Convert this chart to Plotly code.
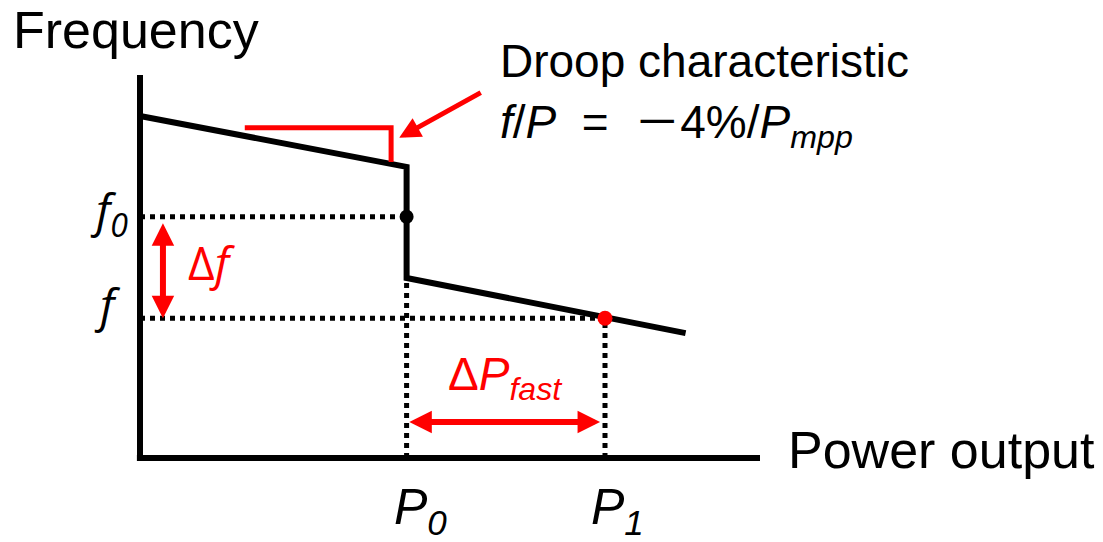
import plotly.graph_objects as go

# ---- Droop characteristic schematic (arbitrary units) ----
axis_max_p = 10.0          # length of the power axis
axis_max_f = 10.0          # height of the frequency axis

# droop curve: upper branch, step down at P0, lower branch
droop_p = [0.0, 4.3, 4.3, 8.8]
droop_f = [8.93, 7.6, 4.7, 3.26]

# operating points
p0, p1 = 4.3, 7.5
f0, f1 = 6.3, 3.65

# slope bracket drawn above the upper branch
bracket_p = [1.69, 4.05, 4.05]
bracket_f = [8.62, 8.62, 7.73]

# callout arrow pointing at the bracket (tail, head)
callout_tail = (5.52, 9.56)
callout_head = (4.18, 8.36)

# delta markers
delta_f_p = 0.37
delta_p_f = 0.94

# ---- pixel scale of the canvas ----
W, H = 1103, 542
ORIGIN_PX = (140, 458)
PX_PER_P = 62.0
PX_PER_F = 38.3

BLACK = "#000000"
RED = "#ff0000"
SANS = "Liberation Sans, Arial, sans-serif"
CAL = "Open Sans, sans-serif"

fig = go.Figure()

dot = dict(color=BLACK, width=5, dash="5px,5px")

# dotted guide lines
fig.add_trace(go.Scatter(x=[0, p0], y=[f0, f0], mode="lines", line=dot))
fig.add_trace(go.Scatter(x=[p0, p0], y=[0, droop_f[2]], mode="lines", line=dot))
fig.add_trace(go.Scatter(x=[0, p1], y=[f1, f1], mode="lines", line=dot))
fig.add_trace(go.Scatter(x=[p1, p1], y=[0, f1], mode="lines", line=dot))

# axes
fig.add_trace(go.Scatter(x=[0, 0], y=[0, axis_max_f], mode="lines",
                         line=dict(color=BLACK, width=6)))
fig.add_trace(go.Scatter(x=[-0.05, axis_max_p], y=[0, 0], mode="lines",
                         line=dict(color=BLACK, width=6)))

# droop curve
fig.add_trace(go.Scatter(x=droop_p, y=droop_f, mode="lines",
                         line=dict(color=BLACK, width=6)))

# slope bracket
fig.add_trace(go.Scatter(x=bracket_p, y=bracket_f, mode="lines",
                         line=dict(color=RED, width=5)))

# operating points
fig.add_trace(go.Scatter(x=[p0], y=[f0], mode="markers",
                         marker=dict(color=BLACK, size=14)))
fig.add_trace(go.Scatter(x=[p1], y=[f1], mode="markers",
                         marker=dict(color=RED, size=15)))

arrow = dict(text="", showarrow=True, xref="x", yref="y", axref="x", ayref="y",
             arrowcolor=RED, arrowhead=2, arrowsize=0.75, arrowwidth=6)

fig.add_annotation(x=callout_head[0], y=callout_head[1],
                   ax=callout_tail[0], ay=callout_tail[1],
                   **{**arrow, "arrowwidth": 5, "arrowsize": 0.85})
fig.add_annotation(x=delta_f_p, y=f1, ax=delta_f_p, ay=f0 - 0.13,
                   arrowside="end+start", startarrowhead=2, startarrowsize=0.75,
                   **arrow)
fig.add_annotation(x=p1 - 0.08, y=delta_p_f, ax=p0 + 0.02, ay=delta_p_f,
                   arrowside="end+start", startarrowhead=2, startarrowsize=0.75,
                   **arrow)


def label(text, px, py, size, color=BLACK, family=SANS, xanchor="left", yanchor="middle"):
    fig.add_annotation(text=text, x=px / W, y=1 - py / H, xref="paper", yref="paper",
                       showarrow=False, xanchor=xanchor, yanchor=yanchor,
                       font=dict(size=size, color=color, family=family))


WIDE_MINUS = "<span style=\"font-family:'Noto Sans CJK JP'\">－</span>"

label("Frequency", 11, 30, 52)
label("Power output", 786, 450, 52)
label("Droop characteristic", 498, 61, 46)
label("<i>f</i>/<i>P</i>  =  " + WIDE_MINUS + "4%/<i>P<sub>mpp</sub></i>",
      498, 83, 46, yanchor="top")
label("<i>P<sub>0</sub></i>", 392, 477, 50, yanchor="top")
label("<i>P<sub>1</sub></i>", 589, 477, 50, yanchor="top")
label("Δ<i>P<sub>fast</sub></i>", 446, 346, 46, color=RED, yanchor="top")
label("<i>f<sub>0</sub></i>", 88, 176, 46, family=CAL, yanchor="top")
label("<i>f</i>", 92, 304, 46, family=CAL)
label("Δ<i>f</i>", 186, 262, 46, color=RED, family=CAL)

fig.update_layout(
    width=W, height=H,
    margin=dict(l=0, r=0, t=0, b=0),
    paper_bgcolor="white", plot_bgcolor="white",
    showlegend=False,
    xaxis=dict(visible=False,
               range=[-ORIGIN_PX[0] / PX_PER_P, (W - ORIGIN_PX[0]) / PX_PER_P]),
    yaxis=dict(visible=False,
               range=[-(H - ORIGIN_PX[1]) / PX_PER_F, ORIGIN_PX[1] / PX_PER_F]),
)

fig.write_html("out.html")
